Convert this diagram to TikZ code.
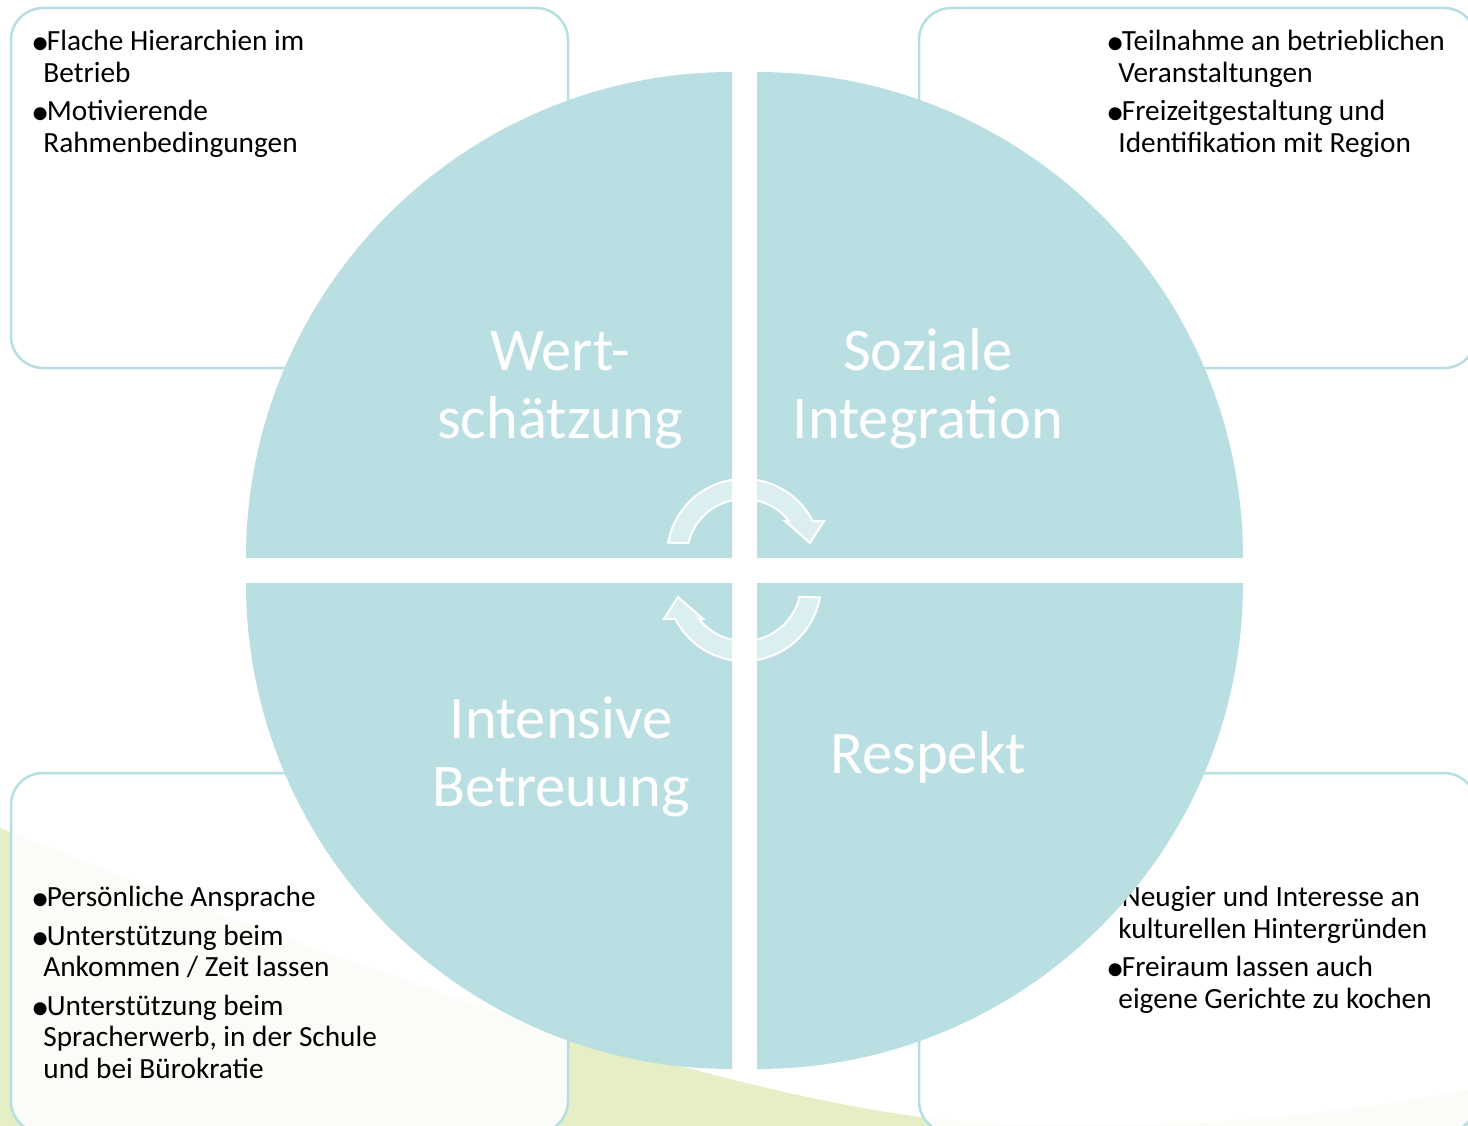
\documentclass[tikz,border=0pt]{standalone}
\usepackage{fontspec}
\usepackage{graphicx}
\setmainfont{Carlito}
\definecolor{teal1}{RGB}{186,223,226}
\definecolor{boxline}{RGB}{183,222,226}
\definecolor{green1}{RGB}{229,238,196}
\newcommand{\blt}{\makebox[12.2pt][l]{\raisebox{-3.8pt}{\scalebox{1.25}{•}}}}
\newcommand{\fst}{\hspace*{3.5pt}}
\begin{document}
\begin{tikzpicture}[x=1pt,y=-1pt,
  quad/.style={fill=teal1},
  boxstyle/.style={draw=boxline, line width=2.5pt, fill=white, fill opacity=0.88, rounded corners=32pt},
  listtext/.style={anchor=base west, inner sep=0pt, text=black, font=\fontsize{29.3}{31.5}\selectfont},
  title/.style={anchor=base, inner sep=0pt, text=white, font=\fontsize{60.5}{68}\selectfont},
  cyc/.style={fill=white, fill opacity=0.5, draw=white, line width=2pt, line join=miter}
]
\useasboundingbox (0,0) rectangle (1468,1126);
\clip (0,0) rectangle (1468,1126);
\fill[white] (0,0) rectangle (1468,1126);
% green background wave
\fill[green1] (0,828) .. controls (350,968) and (760,1115) .. (1000,1124)
  .. controls (1200,1131) and (1350,1112) .. (1468,1090) -- (1468,1126) -- (0,1126) -- cycle;
% boxes
\path[boxstyle] (11,8) rectangle (568,368);
\path[boxstyle] (919,8) rectangle (1476,368);
\path[boxstyle] (11,773) rectangle (568,1133);
\path[boxstyle] (919,773) rectangle (1476,1133);
% box texts
\node[listtext] (tltext) at (31,50.7) {\begin{tabular}[t]{@{}l@{}l@{}}\blt&\fst Flache Hierarchien im\\&Betrieb\\[7pt]\blt&\fst Motivierende\\&Rahmenbedingungen\end{tabular}};
\node[listtext] (trtext) at (1106,50.7) {\begin{tabular}[t]{@{}l@{}l@{}}\blt&\fst Teilnahme an betrieblichen\\&Veranstaltungen\\[7pt]\blt&\fst Freizeitgestaltung und\\&Identifikation mit Region\end{tabular}};
\node[listtext] (bltext) at (31,906.7) {\begin{tabular}[t]{@{}l@{}l@{}}\blt&\fst Persönliche Ansprache\\[7pt]\blt&\fst Unterstützung beim\\&Ankommen / Zeit lassen\\[7pt]\blt&\fst Unterstützung beim\\&Spracherwerb, in der Schule\\&und bei Bürokratie\end{tabular}};
\node[listtext] (brtext) at (1106,906.7) {\begin{tabular}[t]{@{}l@{}l@{}}\blt&\fst Neugier und Interesse an\\&kulturellen Hintergründen\\[7pt]\blt&\fst Freiraum lassen auch\\&eigene Gerichte zu kochen\end{tabular}};
% circle quadrants
\fill[quad] (732,558) -- (246,558) arc[start angle=180, end angle=270, radius=486] -- cycle;
\fill[quad] (757,558) -- (757,72) arc[start angle=270, end angle=360, radius=486] -- cycle;
\fill[quad] (757,583) -- (1243,583) arc[start angle=0, end angle=90, radius=486] -- cycle;
\fill[quad] (732,583) -- (732,1069) arc[start angle=90, end angle=180, radius=486] -- cycle;
% cycle arrows
\path[cyc] (668.2,542.6) arc[start angle=190, end angle=333, radius=77] -- (824,521) -- (810,543) -- (785,521) -- (788.9,520.9) arc[start angle=322, end angle=193, radius=57] -- cycle;
\begin{scope}[rotate around={180:(744,570)}]
\path[cyc] (668.2,542.6) arc[start angle=190, end angle=333, radius=77] -- (824,521) -- (810,543) -- (785,521) -- (788.9,520.9) arc[start angle=322, end angle=193, radius=57] -- cycle;
\end{scope}
% titles
\node[title] (wert) at (560,370) {\begin{tabular}[t]{@{}c@{}}Wert-\\schätzung\end{tabular}};
\node[title] (soz) at (928,370) {\begin{tabular}[t]{@{}c@{}}Soziale\\Integration\end{tabular}};
\node[title] (inten) at (561,738) {\begin{tabular}[t]{@{}c@{}}Intensive\\Betreuung\end{tabular}};
\node[title] (resp) at (928,773) {Respekt};
\end{tikzpicture}
\end{document}
